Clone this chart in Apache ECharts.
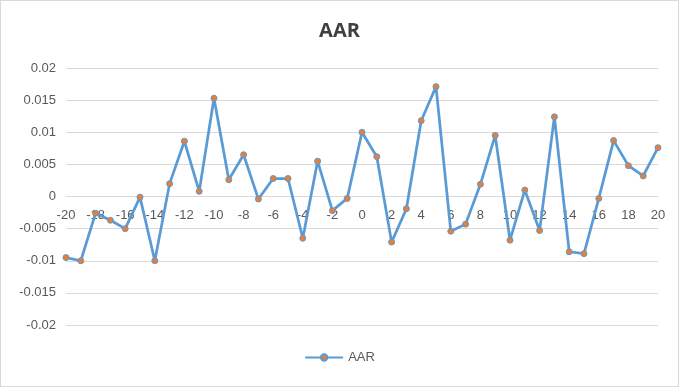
<!DOCTYPE html>
<html><head><meta charset="utf-8">
<script src="https://cdn.jsdelivr.net/npm/echarts@6/dist/echarts.min.js"></script>
<style>
html,body{margin:0;padding:0;background:#fff;}
#c{width:677px;height:385px;border:1px solid #d9d9d9;}
</style></head>
<body><div id="c"></div>
<script>
var categories = [];
for (var i = -20; i <= 20; i++) categories.push(String(i));
var aarValues = [
  -0.0095, -0.0100, -0.0026, -0.0037, -0.0050, -0.0001, -0.0100, 0.0020, 0.0086, 0.0008,
  0.0153, 0.0026, 0.0065, -0.0004, 0.0028, 0.0028, -0.0065, 0.0055, -0.0022, -0.0003,
  0.0100, 0.0062, -0.0071, -0.0019, 0.0118, 0.0171, -0.0054, -0.0043, 0.0019, 0.0095,
  -0.0068, 0.0010, -0.0053, 0.0124, -0.0086, -0.0089, -0.0003, 0.0087, 0.0048, 0.0032,
  0.0076
];
var seriesName = 'AAR';
var chartTitle = 'AAR';

var gridTop = 67, gridBottom = 61, chartH = 385;
var gridH = chartH - gridTop - gridBottom;

var chart = echarts.init(document.getElementById('c'));
var labelFont = 'Liberation Sans';
chart.setOption({
  animation: false,
  title: {
    text: chartTitle, left: 'center', top: 15,
    textStyle: {fontFamily: 'Open Sans', fontWeight: 'bold', fontSize: 20, color: '#404040'}
  },
  legend: {
    bottom: 17, left: 'center', itemWidth: 38, itemHeight: 8, itemGap: 10,
    textStyle: {fontFamily: labelFont, fontSize: 13, color: '#595959'},
    data: [seriesName]
  },
  grid: {left: 65, right: 20, top: gridTop, bottom: gridBottom},
  xAxis: {
    type: 'category', data: categories, boundaryGap: false,
    position: 'bottom', offset: -gridH / 2,
    axisLine: {onZero: false, lineStyle: {color: '#d9d9d9', width: 1}},
    axisTick: {show: false},
    axisLabel: {interval: 1, color: '#595959', fontFamily: labelFont, fontSize: 13, margin: 12}
  },
  yAxis: {
    type: 'value', min: -0.02, max: 0.02, interval: 0.005,
    axisLine: {show: false}, axisTick: {show: false},
    splitLine: {lineStyle: {color: '#d9d9d9', width: 1}},
    axisLabel: {color: '#595959', fontFamily: labelFont, fontSize: 13, margin: 10,
      formatter: function (v) { return String(Math.round(v * 1000) / 1000); }}
  },
  series: [{
    name: seriesName, type: 'line', data: aarValues,
    symbol: 'circle', symbolSize: 6,
    lineStyle: {color: '#5b9bd5', width: 2.75},
    itemStyle: {color: '#ed7d31', borderColor: '#5b9bd5', borderWidth: 1}
  }]
});
</script></body></html>
